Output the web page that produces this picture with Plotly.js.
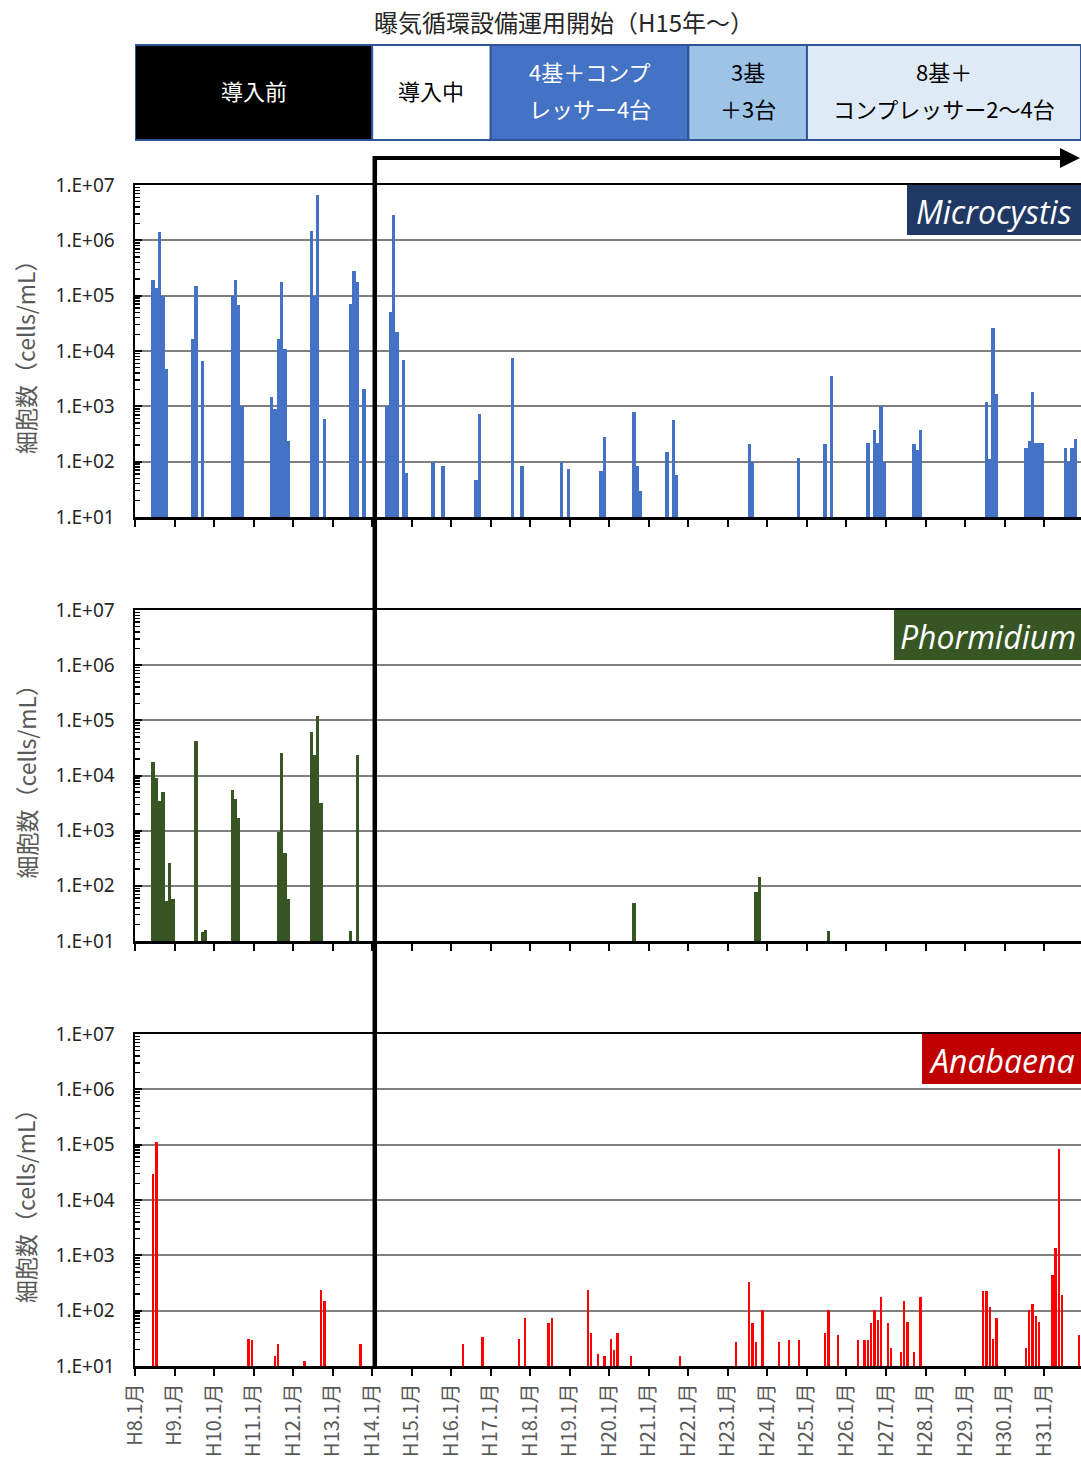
<!DOCTYPE html>
<html>
<head>
<meta charset="utf-8">
<script src="https://cdn.plot.ly/plotly-3.0.1.min.js"></script>
<style>html,body{margin:0;padding:0;background:#fff;}#chart{width:1081px;height:1459px;}</style>
</head>
<body>
<div id="chart"></div>
<script>
// ---- data (month labels in 平成 year.month) ----
const mcMonths = ['H8.6','H8.7','H8.8','H8.9','H8.10','H9.6','H9.7','H9.9','H10.6','H10.7','H10.8','H10.9',
  'H11.6','H11.7','H11.8','H11.9','H11.10','H11.11','H12.6','H12.7','H12.8','H12.10','H13.6','H13.7','H13.8','H13.10',
  'H14.5','H14.6','H14.7','H14.8','H14.10','H14.11','H15.7','H15.10','H16.8','H16.9','H17.7','H17.10','H18.10','H18.12',
  'H19.10','H19.11','H20.8','H20.9','H20.10','H21.6','H21.8','H21.9','H23.7','H23.8','H24.10','H25.6','H25.8',
  'H26.7','H26.9','H26.10','H26.11','H26.12','H27.9','H27.10','H27.11','H29.7','H29.8','H29.9','H29.10',
  'H30.7','H30.8','H30.9','H30.10','H30.11','H30.12','H31.7','H31.8','H31.9','H31.10'];
const mcValues = [190000,140000,1400000,100000,4700,16600,150000,6500,100000,190000,67000,1000,
  1450,900,16600,175000,11000,240,1500000,100000,6600000,600,72000,280000,175000,2100,
  1000,50000,2900000,22000,6900,62,100,85,47,720,7400,85,100,73,
  68,280,780,85,29,148,560,58,205,100,118,205,3500,
  220,380,220,1000,100,205,165,380,1200,110,26000,1700,
  174,235,1800,220,220,220,174,100,174,255];

const phMonths = ['H8.6','H8.7','H8.8','H8.9','H8.10','H8.11','H8.12','H9.7','H9.9','H9.10','H10.6','H10.7','H10.8',
  'H11.8','H11.9','H11.10','H11.11','H12.6','H12.7','H12.8','H12.9','H13.6','H13.8','H20.8','H23.9','H23.10','H25.7'];
const phValues = [17800,8900,3500,5100,53,256,57,43000,14.7,16,5500,3700,1670,
  950,26000,400,57,62000,24000,120000,3200,15,24000,49,78,147,15];

const anMonths = ['H8.6','H8.7','H10.11','H10.12','H11.7','H11.8','H12.4','H12.9','H12.10','H13.9',
  'H16.4','H16.10','H17.9','H17.11','H18.6','H18.7','H19.6','H19.7','H19.9','H19.11','H20.1','H20.2','H20.3','H20.7',
  'H21.10','H23.3','H23.7','H23.8','H23.9','H23.11','H24.4','H24.7','H24.10','H25.6','H25.7','H25.10',
  'H26.4','H26.6','H26.7','H26.8','H26.9','H26.10','H26.11','H27.1','H27.2','H27.5','H27.6','H27.7','H27.9','H27.11',
  'H29.6','H29.7','H29.8','H29.9','H29.10','H30.7','H30.8','H30.9','H30.10','H30.11',
  'H31.3','H31.4','H31.5','H31.6','H31.11'];
const anValues = [29000,110000,31,29,15,25,12.3,236,149,25,
  25,33,31,74,59,74,240,40,16.5,15.4,31,19.5,40,15.4,
  15.4,27,330,59,27,103,27,29,29,40,103,36,
  29,29,29,59,103,68,178,59,21,18,149,63,18,178,
  224,224,118,31,74,21,103,130,80,63,
  450,1350,85000,192,36];

const yearLabels = ['H8','H9','H10','H11','H12','H13','H14','H15','H16','H17','H18','H19',
  'H20','H21','H22','H23','H24','H25','H26','H27','H28','H29','H30','H31'];
const yTickVals = [1e1,1e2,1e3,1e4,1e5,1e6,1e7];
const yTickText = ['1.E+01','1.E+02','1.E+03','1.E+04','1.E+05','1.E+06','1.E+07'];

const species = ['Microcystis','Phormidium','Anabaena'];
const phaseLabels = [['導入前'],['導入中'],['4基＋コンプ','レッサー4台'],['3基','＋3台'],['8基＋','コンプレッサー2～4台']];
const phaseStarts = ['H8.1','H14.1','H17.1','H22.1','H25.1'];
const headerTitle = '曝気循環設備運用開始（H15年～）';
const yTitle = '細胞数（cells/mL）';

// ---- helpers ----
function mIndex(lbl){ const p = lbl.slice(1).split('.'); return (parseInt(p[0])-8)*12 + parseInt(p[1]) - 1; }
const X_END = 287.2;
const H = 1459, T = 185, B = 93, PH = H - T - B;
const py = (pix) => (H - B - pix) / PH;   // pixel y -> paper y
const px = (pix) => (pix - 135) / 946;     // pixel x -> paper x

const colors = ['#4472C4','#375623','#FF0000'];
const labelBg = ['#1F3864','#375623','#C00000'];
const jp = '"Noto Sans CJK JP", "Noto Sans", sans-serif';

const traces = [
  {x: mcMonths.map(m => mIndex(m)+0.5), y: mcValues, type:'bar', width:1.0, marker:{color:colors[0]}, xaxis:'x', yaxis:'y'},
  {x: phMonths.map(m => mIndex(m)+0.5), y: phValues, type:'bar', width:1.0, marker:{color:colors[1]}, xaxis:'x2', yaxis:'y2'},
  {x: anMonths.map(m => mIndex(m)+0.5), y: anValues, type:'bar', width:0.7, marker:{color:colors[2]}, xaxis:'x3', yaxis:'y3'}
];

const tickvals = yearLabels.map((_, i) => i*12);
const ticktext = yearLabels.map(y => y + '.1月');
const minorVals = [];
for (let e = 1; e < 7; e++) for (let k = 2; k <= 9; k++) minorVals.push(k*Math.pow(10,e));

function xAxis(anchor, showLabels){
  return {anchor: anchor, range:[0, X_END], tickmode:'array', tickvals: tickvals, ticktext: ticktext,
    showticklabels: showLabels, tickangle:-90, ticks:'outside', ticklen:7, tickwidth:2, tickcolor:'#000',
    showline:true, linewidth:2.5, linecolor:'#000', mirror:true, showgrid:false, zeroline:false,
    tickfont:{family: jp, size:20, color:'#595959'}, fixedrange:true};
}
function yAxis(anchor, domain){
  return {anchor: anchor, domain: domain, type:'log', range:[1,7], tickmode:'array', tickvals:yTickVals, ticktext:yTickText,
    ticks:'inside', ticklen:7, tickwidth:2, tickcolor:'#000', showline:true, linewidth:2.5, linecolor:'#000',
    showgrid:true, gridcolor:'#7f7f7f', gridwidth:2, zeroline:false, ticklabelstandoff:14,
    minor:{tickmode:'array', tickvals:minorVals, ticks:'inside', ticklen:5, tickwidth:1.5, tickcolor:'#000', showgrid:false},
    tickfont:{family:'"Noto Sans", sans-serif', size:19, color:'#262626'}, fixedrange:true};
}

const panelPix = [[185,517],[610,941],[1034,1366]];
const domains = panelPix.map(p => [py(p[1]), py(p[0])]);

const shapes = [];
const annotations = [];

// header boxes
const phaseFill = ['#000000','#FFFFFF','#4472C4','#9DC3E6','#DEEBF7'];
const phaseText = ['#FFFFFF','#000000','#FFFFFF','#000000','#000000'];
phaseStarts.forEach((s, i) => {
  const x0 = mIndex(s);
  const x1 = i < phaseStarts.length-1 ? mIndex(phaseStarts[i+1]) : X_END;
  shapes.push({type:'rect', xref:'x', yref:'paper', x0:x0, x1:x1, y0:py(140), y1:py(45),
    fillcolor:phaseFill[i], line:{color:'#2F5597', width:2}, layer:'above'});
  const lines = phaseLabels[i];
  const ys = lines.length === 1 ? [90] : [71, 108];
  lines.forEach((t, j) => annotations.push({xref:'x', yref:'paper', x:(x0+x1)/2, y:py(ys[j]), text:t, showarrow:false,
    font:{family: jp, size:22, color:phaseText[i]}, xanchor:'center', yanchor:'middle'}));
});
annotations.push({xref:'paper', yref:'paper', x:px(564), y:py(22), text:headerTitle, showarrow:false,
  font:{family: jp, size:24, color:'#262626'}, xanchor:'center', yanchor:'middle'});

// start-of-operation line & arrow
const startX = mIndex('H14.1') + 0.8;
shapes.push({type:'line', xref:'x', yref:'paper', x0:startX, x1:startX, y0:0, y1:py(156), line:{color:'#000', width:4.5}, layer:'above'});
annotations.push({xref:'x', yref:'paper', x:X_END-0.3, y:py(158), axref:'x', ax:startX, ayref:'pixel', ay:0, text:'',
  showarrow:true, arrowhead:2, arrowsize:1, arrowwidth:4, arrowcolor:'#000', standoff:0, startstandoff:0});

// species labels
const lblLeft = [907, 894, 922];
species.forEach((sp, i) => {
  const top = panelPix[i][0];
  shapes.push({type:'rect', xref:'paper', yref:'paper', x0:px(lblLeft[i]), x1:1, y0:py(top+50), y1:py(top), fillcolor:labelBg[i], line:{width:0}, layer:'above'});
  annotations.push({xref:'paper', yref:'paper', x:(px(lblLeft[i])+1)/2, y:py(top+26), text:'<i>'+sp+'</i>', showarrow:false,
    font:{family:'"Open Sans", "Noto Sans", sans-serif', size:32, color:'#FFFFFF'}, xanchor:'center', yanchor:'middle'});
  annotations.push({xref:'paper', yref:'paper', x:px(25), y:(domains[i][0]+domains[i][1])/2, text:yTitle, textangle:-90, showarrow:false,
    font:{family: jp, size:23, color:'#595959'}, xanchor:'center', yanchor:'middle'});
});

const layout = {
  width:1081, height:1459, margin:{l:135, r:0, t:T, b:B}, paper_bgcolor:'#fff', plot_bgcolor:'#fff',
  showlegend:false, bargap:0,
  xaxis: xAxis('y', false), xaxis2: xAxis('y2', false), xaxis3: xAxis('y3', true),
  yaxis: yAxis('x', domains[0]), yaxis2: yAxis('x2', domains[1]), yaxis3: yAxis('x3', domains[2]),
  shapes: shapes, annotations: annotations
};

Plotly.newPlot('chart', traces, layout, {staticPlot:true, displayModeBar:false});
</script>
</body>
</html>
